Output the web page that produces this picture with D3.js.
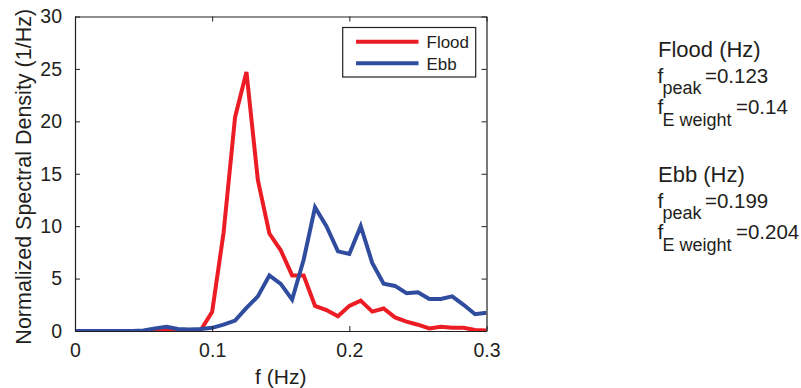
<!DOCTYPE html>
<html>
<head>
<meta charset="utf-8">
<script src="https://cdn.jsdelivr.net/npm/d3@7"></script>
<style>
  html, body { margin: 0; padding: 0; background: #fff; }
  svg { display: block; font-family: "Liberation Sans", Arial, Helvetica, sans-serif; }
</style>
</head>
<body>
<svg id="chart" width="801" height="388"></svg>
<script>
// ---- data ----
const freq = [0, 0.0083, 0.0167, 0.025, 0.0333, 0.0417, 0.05, 0.0583, 0.0667, 0.075,
  0.0833, 0.0917, 0.1, 0.1083, 0.1167, 0.125, 0.1333, 0.1417, 0.15, 0.1583,
  0.1667, 0.175, 0.1833, 0.1917, 0.2, 0.2083, 0.2167, 0.225, 0.2333, 0.2417,
  0.25, 0.2583, 0.2667, 0.275, 0.2833, 0.2917, 0.3];
const flood = [0, 0, 0, 0, 0, 0, 0, 0.05, 0.15, 0.05,
  0.05, 0.1, 1.84, 9.35, 20.4, 24.7, 14.4, 9.3, 7.7, 5.3,
  5.3, 2.4, 2.0, 1.4, 2.4, 2.9, 1.85, 2.15, 1.3, 0.9,
  0.6, 0.25, 0.4, 0.3, 0.3, 0.1, 0.05];
const ebb = [0, 0, 0, 0, 0, 0, 0.05, 0.25, 0.4, 0.2,
  0.15, 0.2, 0.3, 0.6, 1.0, 2.2, 3.3, 5.3, 4.5, 3.0,
  6.8, 11.8, 10.0, 7.6, 7.35, 10.0, 6.5, 4.5, 4.3, 3.6,
  3.7, 3.05, 3.05, 3.3, 2.5, 1.6, 1.75];
const seriesNames = ["Flood", "Ebb"];
const xTicks = [0, 0.1, 0.2, 0.3];
const xTickLabels = ["0", "0.1", "0.2", "0.3"];
const yTicks = [0, 5, 10, 15, 20, 25, 30];
const yTickLabels = ["0", "5", "10", "15", "20", "25", "30"];
const annoFlood = ["Flood (Hz)", "0.123", "0.14"];
const annoEbb = ["Ebb (Hz)", "0.199", "0.204"];

// ---- layout ----
const colors = {Flood: "#ec1c24", Ebb: "#2f4c9f"};
const L = 75, R = 486.5, T = 16.5, B = 331;
const svg = d3.select("#chart");
const x = d3.scaleLinear().domain([0, 0.3]).range([L, R]);
const y = d3.scaleLinear().domain([0, 30]).range([B, T]);
const textColor = "#231f20";

svg.append("defs").append("clipPath").attr("id", "clip")
  .append("rect").attr("x", L).attr("y", T).attr("width", R - L).attr("height", B - T);

// lines
const data = {Flood: flood, Ebb: ebb};
const line = d3.line().x((d, i) => x(freq[i])).y(d => y(d));
seriesNames.forEach(name => {
  svg.append("path")
    .datum(data[name])
    .attr("clip-path", "url(#clip)")
    .attr("fill", "none")
    .attr("stroke", colors[name])
    .attr("stroke-width", 4)
    .attr("stroke-linejoin", "miter")
    .attr("d", line);
});

// axes (MATLAB-like box with inward ticks)
const tickLen = 5;
const xAxisB = d3.axisBottom(x).tickValues(xTicks).tickSizeInner(-tickLen).tickSizeOuter(0)
  .tickPadding(12).tickFormat((d, i) => xTickLabels[i]);
const gx = svg.append("g").attr("transform", `translate(0,${B})`).call(xAxisB);
const xAxisT = d3.axisTop(x).tickValues(xTicks).tickSizeInner(-tickLen).tickSizeOuter(0).tickFormat("");
const gxt = svg.append("g").attr("transform", `translate(0,${T})`).call(xAxisT);
const yAxisL = d3.axisLeft(y).tickValues(yTicks).tickSizeInner(-tickLen).tickSizeOuter(0)
  .tickPadding(13).tickFormat((d, i) => yTickLabels[i]);
const gy = svg.append("g").attr("transform", `translate(${L},0)`).call(yAxisL);
const yAxisR = d3.axisRight(y).tickValues(yTicks).tickSizeInner(-tickLen).tickSizeOuter(0).tickFormat("");
const gyr = svg.append("g").attr("transform", `translate(${R},0)`).call(yAxisR);

[gx, gxt, gy, gyr].forEach(g => {
  g.select(".domain").attr("stroke", "#231f20").attr("stroke-width", 1.2);
  g.selectAll(".tick line").attr("stroke", "#231f20").attr("stroke-width", 1);
  g.selectAll(".tick text").attr("fill", textColor).style("font-size", "19.5px")
    .style("font-family", "'Liberation Sans', Arial, sans-serif");
});
gx.selectAll(".tick text").attr("dy", "0.71em");

// axis labels
svg.append("text").attr("x", (L + R) / 2).attr("y", 384).attr("text-anchor", "middle")
  .attr("fill", textColor).style("font-size", "21px").text("f (Hz)");
svg.append("text").attr("transform", `translate(31,${(T + B) / 2 + 3}) rotate(-90)`)
  .attr("text-anchor", "middle").attr("fill", textColor).style("font-size", "21.5px")
  .text("Normalized Spectral Density (1/Hz)");

// legend
const lg = svg.append("g");
lg.append("rect").attr("x", 342.7).attr("y", 27.5).attr("width", 133).attr("height", 49.5)
  .attr("fill", "#fff").attr("stroke", "#231f20").attr("stroke-width", 1.2);
seriesNames.forEach((name, i) => {
  const ly = 41.7 + i * 21.5;
  lg.append("line").attr("x1", 356).attr("x2", 418.5).attr("y1", ly).attr("y2", ly)
    .attr("stroke", colors[name]).attr("stroke-width", 4);
  lg.append("text").attr("x", 426.5).attr("y", ly + 6.5).attr("fill", textColor)
    .style("font-size", "17px").text(name);
});

// annotations
function annotate(vals, top) {
  const g = svg.append("g").attr("fill", textColor);
  g.append("text").attr("x", 658).attr("y", top).style("font-size", "22px").text(vals[0]);
  g.append("text").attr("x", 657.5).attr("y", top + 26).style("font-size", "21px").text("f");
  g.append("text").attr("x", 662.5).attr("y", top + 37).style("font-size", "18px").text("peak");
  g.append("text").attr("x", 705).attr("y", top + 26).style("font-size", "20.5px").text("=" + vals[1]);
  g.append("text").attr("x", 657.5).attr("y", top + 57).style("font-size", "21px").text("f");
  g.append("text").attr("x", 662.5).attr("y", top + 69).style("font-size", "18px").text("E weight");
  g.append("text").attr("x", 736).attr("y", top + 57).style("font-size", "20.5px").text("=" + vals[2]);
}
annotate(annoFlood, 56.5);
annotate(annoEbb, 182);
</script>
</body>
</html>
